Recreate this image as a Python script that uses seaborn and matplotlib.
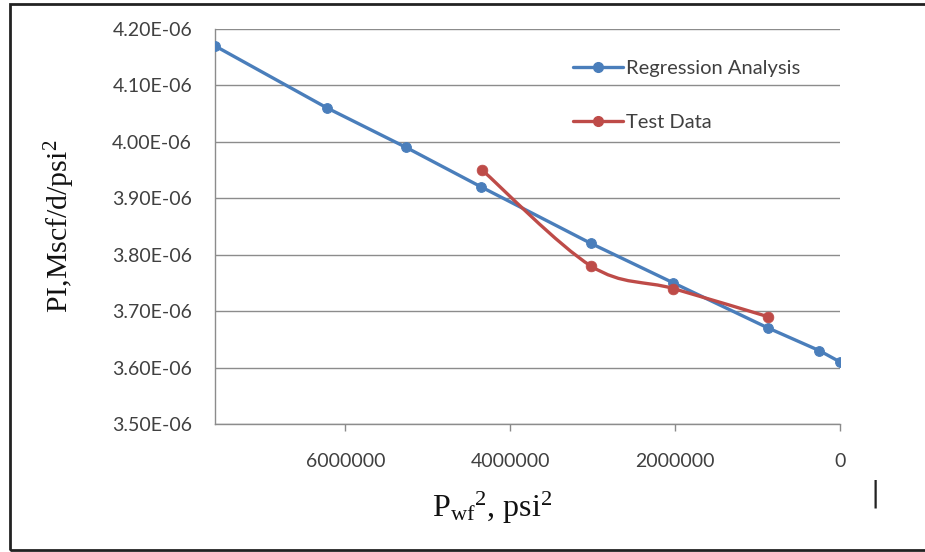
import numpy as np
import pandas as pd
import matplotlib
matplotlib.use("Agg")
import matplotlib.pyplot as plt
import seaborn as sns
from matplotlib.lines import Line2D
from matplotlib.path import Path
from matplotlib.patches import PathPatch, Rectangle

# ---- data ----
reg_x = [7580000, 6220000, 5260000, 4350000, 3020000, 2020000, 870000, 250000, 0]
reg_y = [4.17e-06, 4.06e-06, 3.99e-06, 3.92e-06, 3.82e-06, 3.75e-06, 3.67e-06, 3.63e-06, 3.61e-06]
test_x = [4340000, 3020000, 2020000, 870000]
test_y = [3.95e-06, 3.78e-06, 3.74e-06, 3.69e-06]
x_ticks = [6000000, 4000000, 2000000, 0]
y_ticks = [3.50e-06, 3.60e-06, 3.70e-06, 3.80e-06, 3.90e-06, 4.00e-06, 4.10e-06, 4.20e-06]
series_names = ["Regression Analysis", "Test Data"]

BLUE = "#4A7EBB"
RED = "#BE4B48"

sns.set_theme(style="white")
plt.rcParams["font.family"] = ["Lato", "DejaVu Sans"]
plt.rcParams["mathtext.fontset"] = "custom"
plt.rcParams["mathtext.rm"] = "Liberation Serif"
plt.rcParams["mathtext.it"] = "Liberation Serif:italic"

fig = plt.figure(figsize=(9.25, 5.52), dpi=100)
ax = fig.add_axes([215 / 925, 1 - 424 / 552, 625 / 925, 395 / 552])

df_reg = pd.DataFrame({"x": reg_x, "y": reg_y})
df_test = pd.DataFrame({"x": test_x, "y": test_y})

# regression line
sns.lineplot(data=df_reg, x="x", y="y", ax=ax, color=BLUE, lw=2.4, marker="o",
             markersize=7, markeredgecolor=BLUE, sort=False, zorder=3)

# test data: smoothed line (Excel-style curve through points) + markers
pts = np.column_stack([test_x, test_y]).astype(float)
verts = [tuple(pts[0])]
codes = [Path.MOVETO]
n = len(pts)
for i in range(n - 1):
    p0 = pts[i - 1] if i > 0 else pts[i]
    p1 = pts[i]
    p2 = pts[i + 1]
    p3 = pts[i + 2] if i + 2 < n else pts[i + 1]
    c1 = p1 + (p2 - p0) / 6.0
    c2 = p2 - (p3 - p1) / 6.0
    verts += [tuple(c1), tuple(c2), tuple(p2)]
    codes += [Path.CURVE4] * 3
ax.add_patch(PathPatch(Path(verts, codes), fill=False, edgecolor=RED, lw=2.4, zorder=4))
sns.scatterplot(data=df_test, x="x", y="y", ax=ax, color=RED, s=60, edgecolor=RED,
                linewidth=0.5, zorder=5)

ax.set_xlim(7580000, 0)
ax.set_ylim(3.50e-06, 4.20e-06)
ax.set_xticks(x_ticks)
ax.set_xticklabels([str(v) for v in x_ticks])
ax.set_yticks(y_ticks)
ax.set_yticklabels([f"{v * 1e6:.2f}E-06" for v in y_ticks])
ax.tick_params(axis="x", length=5, width=1, color="#8a8a8a", labelsize=14,
               labelcolor="#404040", pad=16, direction="out", bottom=True)
ax.tick_params(axis="y", length=0, labelsize=14, labelcolor="#404040", pad=16.5)
ax.grid(axis="y", color="#8c8c8c", lw=1)
ax.grid(axis="x", visible=False)
for s in ["top", "right"]:
    ax.spines[s].set_visible(False)
for s in ["left", "bottom"]:
    ax.spines[s].set_color("#8c8c8c")
    ax.spines[s].set_linewidth(1)

ax.set_xlabel(r"$\mathrm{P_{wf}{}^{2}}$, psi$^{2}$", fontsize=23,
              family="Liberation Serif", color="#111111")
ax.xaxis.set_label_coords((492 - 215) / 625, -(490 - 424) / 395)
ax.set_ylabel(r"PI,Mscf/d/psi$^{2}$", fontsize=21.5, family="Liberation Serif",
              color="#111111")
ax.yaxis.set_label_coords(-(215 - 77) / 625, 0.5)

handles = [Line2D([], [], color=BLUE, lw=2.4, marker="o", markersize=7),
           Line2D([], [], color=RED, lw=2.4, marker="o", markersize=7)]
leg = ax.legend(handles, series_names, loc="center left",
                bbox_to_anchor=(0.56, (424 - 95.5) / 395), frameon=False,
                fontsize=14.5, handlelength=2.5, handletextpad=0.15,
                labelspacing=1.8, borderaxespad=0)
for t in leg.get_texts():
    t.set_color("#404040")

# figure border and stray mark
fig.patches.append(Rectangle((10 / 925, 2 / 552), 1.2, 546 / 552,
                             transform=fig.transFigure, fill=False,
                             edgecolor="#222222", lw=2))
fig.text(875 / 925, 1 - 494 / 552, "|", fontsize=20, color="#222222",
         ha="center", va="center", family="DejaVu Sans")

fig.savefig("out.png", dpi=100)
